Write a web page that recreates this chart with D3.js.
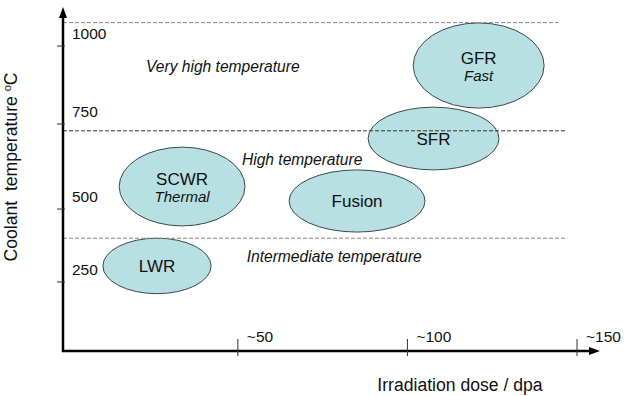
<!DOCTYPE html>
<html>
<head>
<meta charset="utf-8">
<script src="https://cdn.jsdelivr.net/npm/d3@7"></script>
<style>
  body { margin: 0; background: #fff; }
  svg { display: block; font-family: "Liberation Sans", Arial, sans-serif; }
</style>
</head>
<body>
<svg width="624" height="396"></svg>
<script>
// ticks on the two axes
var doseTicks = [50, 100, 150];
var doseTickLabels = ["~50", "~100", "~150"];
var tempTicks = [250, 500, 750, 1000];
var tempTickLabels = ["250", "500", "750", "1000"];

// reactor bubbles (extent in dose / temperature)
var reactors = ["LWR", "SCWR", "Fusion", "SFR", "GFR"];
var reactorNotes = ["", "Thermal", "", "", "Fast"];
var doseLow = [10.2, 15.0, 65.1, 88.4, 101.7];
var doseHigh = [42.1, 52.1, 105.2, 127.0, 140.3];
var tempLow = [210, 442, 421, 615, 801];
var tempHigh = [400, 682, 615, 804, 1074];

// temperature bands
var bandTemps = [400, 730, 1075];
var bandEndDose = [147.1, 146.5, 144.5];
var bandNames = ["Intermediate temperature", "High temperature", "Very high temperature"];
var bandLabelDose = [52.6, 51.2, 22.9];
var bandLabelTemp = [318, 629, 918];

var svg = d3.select("svg");

var x = d3.scaleLinear().domain([0, 150]).range([68.3, 577]);
// the picture's temperature axis is not quite even, so piecewise
var y = d3.scaleLinear().domain(tempTicks).range([282, 209, 124, 46]);

var axisX = 63, axisY = 351;

// bubbles
var bub = svg.append("g").selectAll("g")
  .data(reactors)
  .enter().append("g");

bub.append("ellipse")
  .attr("cx", function(d, i) { return (x(doseLow[i]) + x(doseHigh[i])) / 2; })
  .attr("cy", function(d, i) { return (y(tempLow[i]) + y(tempHigh[i])) / 2; })
  .attr("rx", function(d, i) { return (x(doseHigh[i]) - x(doseLow[i])) / 2; })
  .attr("ry", function(d, i) { return (y(tempLow[i]) - y(tempHigh[i])) / 2; })
  .attr("fill", "#b8dfe1")
  .attr("stroke", "#3a4a4c")
  .attr("stroke-width", 1);

bub.append("text")
  .attr("x", function(d, i) { return (x(doseLow[i]) + x(doseHigh[i])) / 2; })
  .attr("y", function(d, i) {
    var cy = (y(tempLow[i]) + y(tempHigh[i])) / 2;
    return reactorNotes[i] ? cy - 2 : cy + 6;
  })
  .attr("text-anchor", "middle")
  .attr("font-size", "17px")
  .attr("fill", "#111")
  .text(function(d) { return d; });

bub.filter(function(d, i) { return reactorNotes[i] != ""; })
  .append("text")
  .attr("x", function(d) { var i = reactors.indexOf(d); return (x(doseLow[i]) + x(doseHigh[i])) / 2; })
  .attr("y", function(d) { var i = reactors.indexOf(d); return (y(tempLow[i]) + y(tempHigh[i])) / 2 + 15.5; })
  .attr("text-anchor", "middle")
  .attr("font-size", "15px")
  .attr("font-style", "italic")
  .attr("fill", "#111")
  .text(function(d) { return reactorNotes[reactors.indexOf(d)]; });

// dashed band limits, drawn over the bubbles
svg.append("g").selectAll("line")
  .data(bandTemps)
  .enter().append("line")
  .attr("x1", axisX)
  .attr("x2", function(d, i) { return x(bandEndDose[i]); })
  .attr("y1", function(d) { return y(d); })
  .attr("y2", function(d) { return y(d); })
  .attr("stroke", function(d, i) { return i == 1 ? "#333" : "#888"; })
  .attr("stroke-width", 1)
  .attr("stroke-dasharray", "4,2");

svg.append("g").selectAll("text")
  .data(bandNames)
  .enter().append("text")
  .attr("x", function(d, i) { return x(bandLabelDose[i]); })
  .attr("y", function(d, i) { return y(bandLabelTemp[i]); })
  .attr("font-size", "15.6px")
  .attr("font-style", "italic")
  .attr("fill", "#111")
  .text(function(d) { return d; });

// axes
svg.append("line")
  .attr("x1", axisX).attr("y1", axisY + 1)
  .attr("x2", axisX).attr("y2", 15)
  .attr("stroke", "#000").attr("stroke-width", 2.5);
svg.append("path")
  .attr("d", "M" + axisX + ",7 L" + (axisX - 4) + ",18 L" + (axisX + 4) + ",18 Z")
  .attr("fill", "#000");

svg.append("line")
  .attr("x1", axisX - 1).attr("y1", axisY)
  .attr("x2", 592).attr("y2", axisY)
  .attr("stroke", "#000").attr("stroke-width", 2.5);
svg.append("path")
  .attr("d", "M600," + axisY + " L589," + (axisY - 4) + " L589," + (axisY + 4) + " Z")
  .attr("fill", "#000");

// y ticks
svg.append("g").selectAll("line")
  .data(tempTicks)
  .enter().append("line")
  .attr("x1", axisX - 6).attr("x2", axisX + 2)
  .attr("y1", function(d) { return y(d); })
  .attr("y2", function(d) { return y(d); })
  .attr("stroke", "#333").attr("stroke-width", 1);

svg.append("g").selectAll("text")
  .data(tempTicks)
  .enter().append("text")
  .attr("x", 72)
  .attr("y", function(d) { return y(d) - 7; })
  .attr("font-size", "15.5px")
  .attr("fill", "#111")
  .text(function(d, i) { return tempTickLabels[i]; });

// x ticks
svg.append("g").selectAll("line")
  .data(doseTicks)
  .enter().append("line")
  .attr("x1", function(d) { return x(d); })
  .attr("x2", function(d) { return x(d); })
  .attr("y1", axisY - 12).attr("y2", axisY + 5)
  .attr("stroke", "#333").attr("stroke-width", 1);

svg.append("g").selectAll("text")
  .data(doseTicks)
  .enter().append("text")
  .attr("x", function(d) { return x(d) + 9; })
  .attr("y", axisY - 9)
  .attr("font-size", "15.5px")
  .attr("fill", "#111")
  .text(function(d, i) { return doseTickLabels[i]; });

// axis titles
svg.append("text")
  .attr("x", 460).attr("y", 391)
  .attr("text-anchor", "middle")
  .attr("font-size", "17.6px")
  .attr("fill", "#111")
  .text("Irradiation dose / dpa");

var yt = svg.append("text")
  .attr("transform", "translate(17,167) rotate(-90)")
  .attr("text-anchor", "middle")
  .attr("font-size", "17.6px")
  .attr("fill", "#111")
  .style("white-space", "pre");
yt.append("tspan").text("Coolant  temperature ");
yt.append("tspan").attr("font-size", "11px").attr("dy", -6).text("o");
yt.append("tspan").attr("dy", 6).text("C");
</script>
</body>
</html>
